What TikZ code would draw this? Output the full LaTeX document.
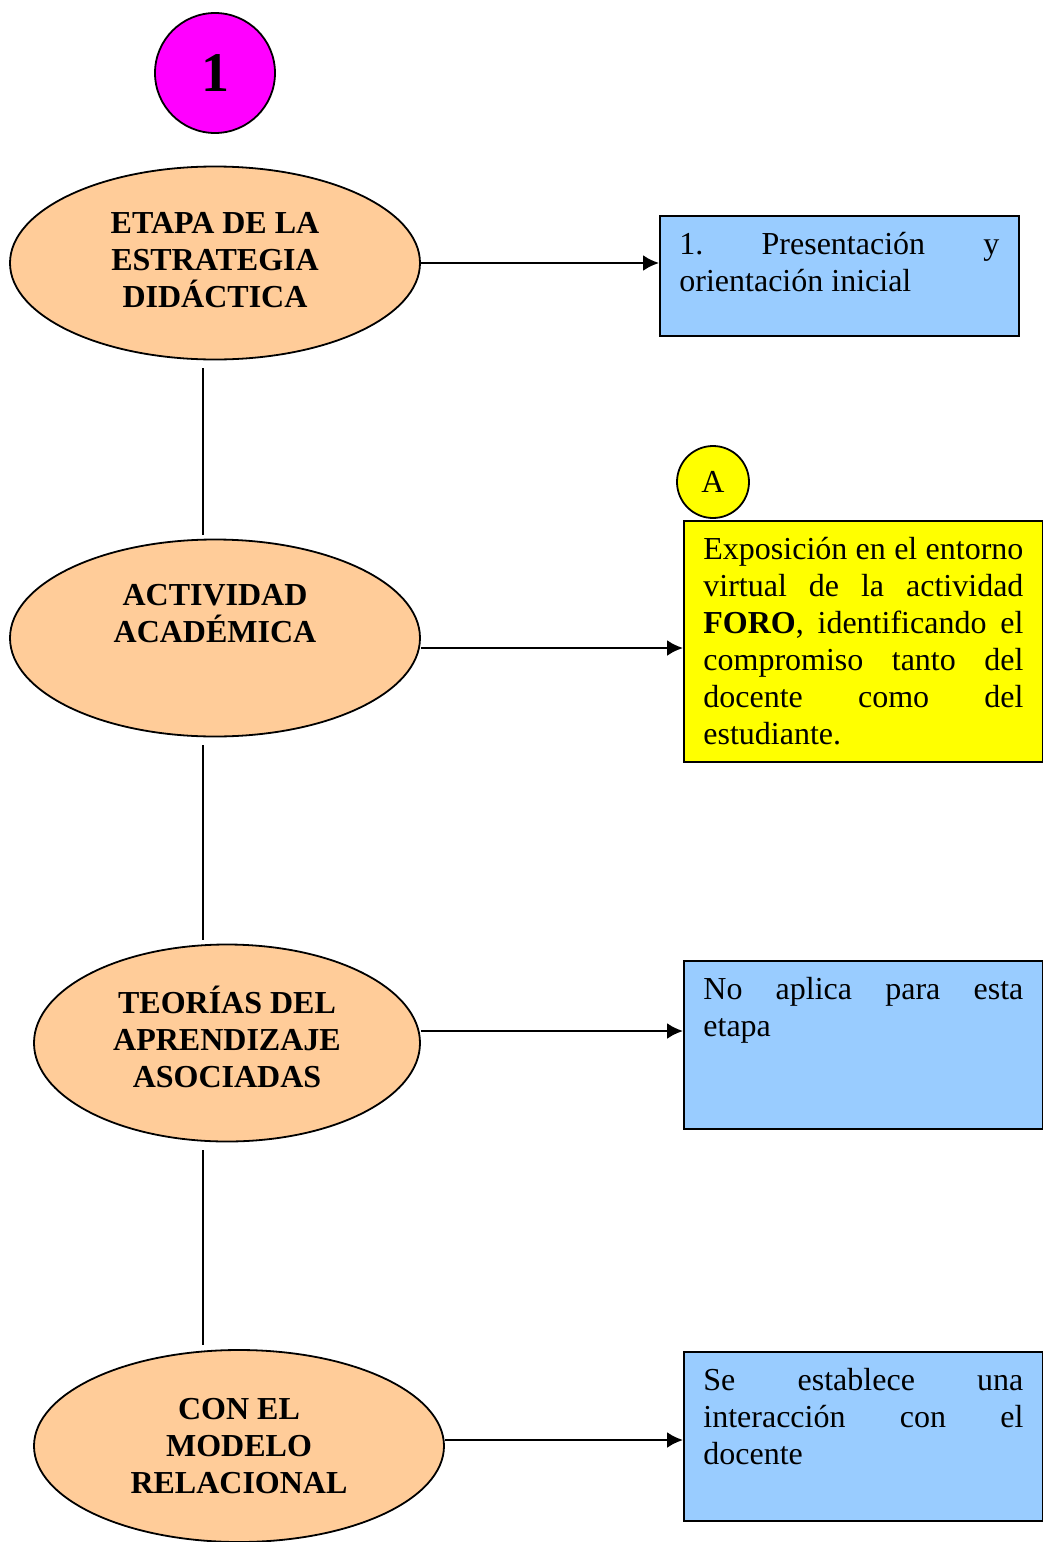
\documentclass[tikz,border=0pt]{standalone}
\usepackage{fontspec}
\setmainfont{Liberation Serif}
\usetikzlibrary{arrows,arrows.meta,shapes,positioning}

\definecolor{peach}{HTML}{FFCC99}
\definecolor{skyblue}{HTML}{99CCFF}
\definecolor{badgepink}{HTML}{FF00FF}
\definecolor{notegold}{HTML}{FFFF00}

% text of a right hand box: height, lines
\newcommand{\boxtext}[2]{\parbox[t][#1][t]{160pt}{\fontsize{16}{18.5}\selectfont\strut #2}}

\begin{document}
\begin{tikzpicture}[x=0.5pt, y=-0.5pt, >={Latex[length=8pt,width=8pt]}, line width=1pt,
		stage/.style={ellipse, draw, line width=0.9pt, fill=peach, inner sep=0pt, align=center, font=\fontsize{16}{18.5}\selectfont\bfseries},
		infobox/.style={rectangle, draw, line width=0.9pt, anchor=north west, inner xsep=9.75pt, inner ysep=6.5pt},
		badge/.style={circle, draw, line width=0.9pt, inner sep=0pt},
		link/.style={-, shorten <=4pt, shorten >=2pt},
		pointer/.style={->, line width=1.2pt}]
		\useasboundingbox (0,0) rectangle (1043,1542);
		
		% Define badges
		\node[badge, fill=badgepink, minimum size=60pt, font=\fontsize{28}{30}\selectfont\bfseries] (Step_One) at (215,73) {1};
		\node[badge, fill=notegold, minimum size=36pt, font=\fontsize{16}{18}\selectfont] (Mark_A) at (713,482) {A};
		
		% Define stages
		\node[stage, minimum width=205pt, minimum height=96.5pt] (Etapa) at (215,263) {ETAPA DE LA\\ESTRATEGIA\\DIDÁCTICA\\[-15.5pt]\mbox{}};
		\node[stage, minimum width=205pt, minimum height=98.5pt] (Actividad) at (215,638) {ACTIVIDAD\\ACADÉMICA\\[6pt]\mbox{}};
		\node[stage, minimum width=193pt, minimum height=98.5pt] (Teorias) at (227,1043) {TEORÍAS DEL\\APRENDIZAJE\\ASOCIADAS\\[-12pt]\mbox{}};
		\node[stage, minimum width=205pt, minimum height=96pt] (Modelo) at (239,1446) {CON EL\\MODELO\\RELACIONAL};
		
		% Define boxes
		\node[infobox, fill=skyblue] (Presentacion) at (659,215) {\boxtext{47pt}{1.\hfill Presentación\hfill y\\orientación inicial}};
		\node[infobox, fill=notegold] (Foro) at (683,520) {\boxtext{107.5pt}{Exposición\hfill en\hfill el\hfill entorno\\virtual\hfill de\hfill la\hfill actividad\\\textbf{FORO},\hfill identificando\hfill el\\compromiso\hfill tanto\hfill del\\docente\hfill como\hfill del\\estudiante.}};
		\node[infobox, fill=skyblue] (No_Aplica) at (683,960) {\boxtext{71pt}{No\hfill aplica\hfill para\hfill esta\\etapa}};
		\node[infobox, fill=skyblue] (Interaccion) at (683,1351) {\boxtext{71.5pt}{Se\hfill establece\hfill una\\interacción\hfill con\hfill el\\docente}};
		
		% Define connections
		\coordinate (Spine) at (203,0);
		\draw[link] (Etapa.south -| Spine) -- (Actividad.north -| Spine);
		\draw[link] (Actividad.south -| Spine) -- (Teorias.north -| Spine);
		\draw[link] (Teorias.south -| Spine) -- (Modelo.north -| Spine);
		
		\draw[pointer] (Etapa.east) -- (Etapa.east -| Presentacion.west);
		\draw[pointer] ([yshift=-5pt]Actividad.east) -- ([yshift=-5pt]Actividad.east -| Foro.west);
		\draw[pointer] ([yshift=6pt]Teorias.east) -- ([yshift=6pt]Teorias.east -| No_Aplica.west);
		\draw[pointer] ([yshift=3pt]Modelo.east) -- ([yshift=3pt]Modelo.east -| Interaccion.west);
	\end{tikzpicture}
\end{document}
